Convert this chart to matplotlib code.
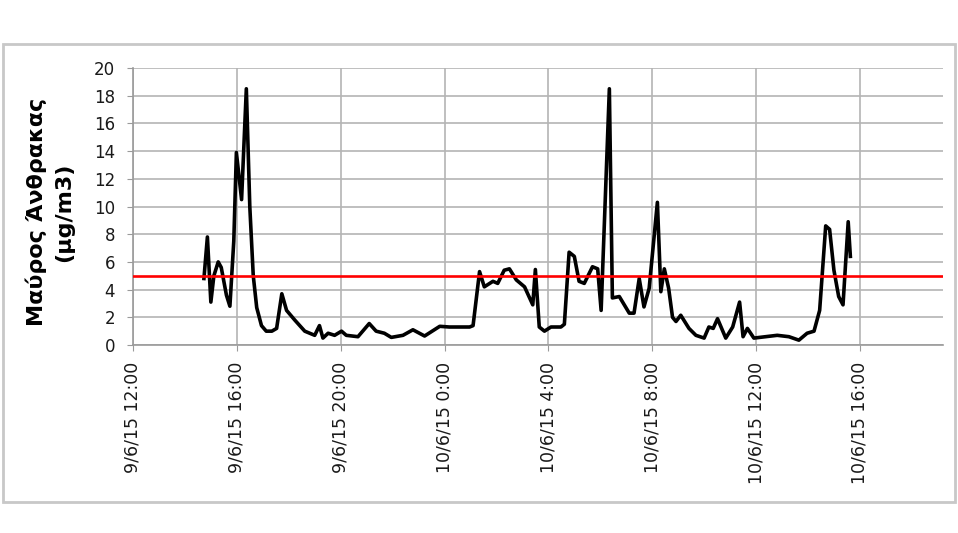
import pandas as pd
import matplotlib
matplotlib.use('Agg')
import matplotlib.pyplot as plt
import matplotlib.dates as mdates
from matplotlib.patches import Rectangle
from matplotlib.ticker import FuncFormatter, MultipleLocator

# Black carbon readings (day 1 = 9/6/15, day 2 = 10/6/15)
day1_times = ['14:44', '14:52', '15:00', '15:07', '15:17', '15:24', '15:36', '15:44',
              '15:53', '15:59', '16:11', '16:22', '16:30', '16:38', '16:46', '16:57',
              '17:08', '17:21', '17:32', '17:44', '17:55', '18:14', '18:37', '19:00',
              '19:11', '19:19', '19:31', '19:46', '20:02', '20:13', '20:40', '21:06',
              '21:22', '21:41', '21:57', '22:24', '22:47', '23:14', '23:49']
day1_values = [4.8, 7.8, 3.1, 5.0, 6.0, 5.6, 3.6, 2.8,
               7.5, 13.9, 10.5, 18.5, 10.0, 5.0, 2.7, 1.4,
               1.0, 1.0, 1.2, 3.7, 2.5, 1.8, 1.0, 0.7,
               1.4, 0.5, 0.85, 0.7, 1.0, 0.7, 0.6, 1.55,
               1.0, 0.85, 0.55, 0.7, 1.1, 0.65, 1.35]

day2_times = ['00:11', '00:35', '00:58', '01:06', '01:21', '01:32', '01:52', '02:03',
              '02:18', '02:30', '02:46', '03:05', '03:24', '03:30', '03:39', '03:51',
              '04:06', '04:29', '04:37', '04:48', '05:00', '05:11', '05:23', '05:42',
              '05:54', '06:02', '06:21', '06:28', '06:44', '07:07', '07:18', '07:30',
              '07:41', '07:53', '08:12', '08:20', '08:28', '08:38', '08:47', '08:55',
              '09:06', '09:25', '09:41', '10:00', '10:11', '10:21', '10:31', '10:50',
              '11:06', '11:22', '11:30', '11:40', '11:55', '12:22', '12:49', '13:16',
              '13:39', '13:58', '14:14', '14:27', '14:41', '14:50', '15:00', '15:11',
              '15:21', '15:33', '15:38']
day2_values = [1.3, 1.3, 1.3, 1.4, 5.3, 4.2, 4.6, 4.45,
               5.4, 5.5, 4.7, 4.2, 2.9, 5.45, 1.3, 1.0,
               1.3, 1.3, 1.5, 6.7, 6.4, 4.6, 4.45, 5.65,
               5.5, 2.5, 18.5, 3.4, 3.5, 2.3, 2.3, 4.8,
               2.75, 4.1, 10.3, 3.85, 5.5, 4.1, 2.0, 1.7,
               2.15, 1.2, 0.7, 0.5, 1.3, 1.2, 1.9, 0.5,
               1.3, 3.1, 0.6, 1.2, 0.5, 0.6, 0.7, 0.6,
               0.35, 0.85, 1.0, 2.5, 8.6, 8.35, 5.4, 3.5,
               2.9, 8.9, 6.4]

limit_value = 5.0
x_start = '2015-06-09 12:00'
x_end = '2015-06-10 19:12'
y_label = 'Μαύρος Άνθρακας\n(μg/m3)'

times = pd.to_datetime(['2015-06-09 ' + t for t in day1_times] +
                       ['2015-06-10 ' + t for t in day2_times])
values = day1_values + day2_values

plt.rcParams['font.family'] = ['DejaVu Sans']

fig = plt.figure(figsize=(9.58, 5.33), dpi=100)
ax = fig.add_axes([0.1388, 0.3527, 0.8455, 0.5197])

ax.plot(times, values, color='black', lw=2.6, solid_joinstyle='round', zorder=3)
ax.axhline(limit_value, color='#ff0000', lw=1.9, zorder=4)

ax.set_xlim(pd.Timestamp(x_start), pd.Timestamp(x_end))
ax.set_ylim(0, 20)
ax.yaxis.set_major_locator(MultipleLocator(2))
ax.xaxis.set_major_locator(mdates.HourLocator(byhour=[0, 4, 8, 12, 16, 20]))


def fmt_date(x, pos):
    d = mdates.num2date(x)
    return f"{d.day}/{d.month}/{d:%y} {d.hour}:{d:%M}"


ax.xaxis.set_major_formatter(FuncFormatter(fmt_date))

ax.grid(True, color='#b4b4b4', lw=1.2)
ax.set_axisbelow(True)
for s in ['top', 'right']:
    ax.spines[s].set_visible(False)
for s in ['left', 'bottom']:
    ax.spines[s].set_color('#9a9a9a')
    ax.spines[s].set_linewidth(1.2)

ax.tick_params(axis='y', length=4, color='#9a9a9a', pad=9, labelsize=12, labelcolor='#1a1a1a')
ax.tick_params(axis='x', length=4, color='#9a9a9a', pad=8, labelsize=12.5, labelcolor='#1a1a1a')
for lab in ax.get_xticklabels():
    lab.set_rotation(90)
    lab.set_va('top')
    lab.set_ha('center')

fig.text(0.052, 0.602, y_label, rotation=90, ha='center', va='center',
         fontsize=16, fontweight='bold', multialignment='center', linespacing=1.4)

# light frame round the whole chart
fig.patches.append(Rectangle((0.003, 0.058), 0.994, 0.86, transform=fig.transFigure,
                             fill=False, edgecolor='#c8c8c8', lw=2))

fig.savefig('out.png', dpi=100)
